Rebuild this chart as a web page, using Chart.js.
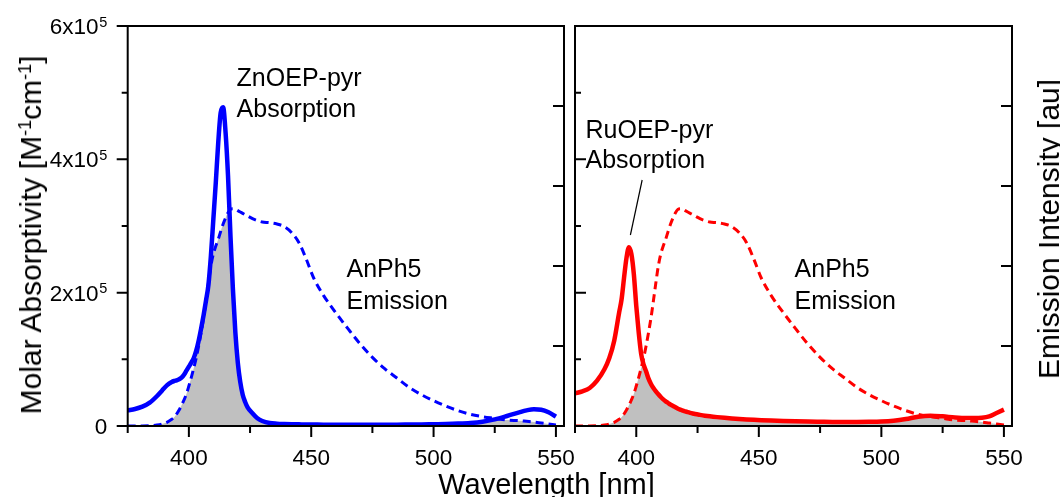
<!DOCTYPE html>
<html>
<head>
<meta charset="utf-8">
<script src="https://cdn.jsdelivr.net/npm/chart.js@4.4.1/dist/chart.umd.min.js"></script>
<style>
  html, body { margin:0; padding:0; background:#fff; }
  #wrap { position:relative; width:1060px; height:497px; overflow:hidden; font-family:'Liberation Sans', Arial, Helvetica, sans-serif; color:#000; }
  canvas { position:absolute; left:0; top:0; }
  .title { position:absolute; white-space:nowrap; }
  .title sup { font-size:18px; line-height:0; vertical-align:baseline; position:relative; top:-10px; }
</style>
</head>
<body>
<div id="wrap">
  <canvas id="c1" width="1060" height="497"></canvas>
  <canvas id="c2" width="1060" height="497"></canvas>
  <div class="title" id="ytitle" style="left:30.6px; top:235px; font-size:30px; line-height:30px; transform:translate(-50%,-50%) rotate(-90deg);">Molar Absorptivity [M<sup>-1</sup>cm<sup>-1</sup>]</div>
  <div class="title" id="y2title" style="left:1048.6px; top:229px; font-size:30px; line-height:30px; transform:translate(-50%,-50%) rotate(-90deg);">Emission Intensity [au]</div>
  <div class="title" id="xtitle" style="left:546.5px; top:469.5px; font-size:29px; line-height:29px; transform:translateX(-50%);">Wavelength [nm]</div>
</div>
<script>
// ---------------- data ----------------
const wavelengths = [375, 378, 381, 384, 387, 389, 391, 393,
  394, 395, 396, 397, 398, 399, 400, 401, 402, 403, 404, 405, 406, 407, 408, 409, 410,
  411, 412, 413, 414, 415, 416, 417, 418, 419, 420, 421, 422, 423, 424,
  426, 428, 430, 433, 436, 439, 442, 445, 448, 451, 455,
  460, 465, 470, 475, 480, 485, 490, 495, 500, 505, 510, 515, 520, 525, 530, 535,
  538, 541, 544, 547, 550];

// AnPh5 emission (drawn on the absorptivity scale, arbitrary units)
const anph5Emission = [0, 0, 0, 300, 1500, 3000, 5500, 10000,
  13000, 18000, 24000, 31000, 39000, 48000, 60000, 73000, 87000, 102000, 120000, 140000, 162000, 188000, 215000, 240000, 258000,
  270000, 280000, 292000, 303000, 312000, 320000, 325000, 326000, 325000, 323000, 321000, 319000, 317000, 315000,
  311000, 308000, 306000, 305000, 303000, 299000, 290000, 275000, 250000, 222000, 196000,
  170000, 146000, 123000, 103000, 86000, 72000, 58000, 47000, 38000, 30000, 23000, 17500, 14000, 11500, 9000, 8000,
  7000, 6000, 4500, 3000, 1500];

// ZnOEP-pyr absorption [M^-1 cm^-1]
const znoepAbsorption = [23500, 25500, 29000, 35000, 45000, 53000, 61000, 66000,
  67500, 68500, 70000, 72500, 77000, 83000, 89000, 95000, 102000, 113000, 128000, 146000, 166000, 188000, 212000, 255000, 310000,
  365000, 425000, 470000, 478000, 440000, 375000, 285000, 205000, 140000, 95000, 66000, 47000, 36000, 28000,
  19000, 11500, 7500, 4500, 3500, 3000, 2700, 2500, 2300, 2200, 2000,
  2000, 1900, 1900, 1900, 2000, 2000, 2200, 2400, 2700, 3000, 3600, 4600, 6500, 10000, 15000, 20500,
  23500, 25200, 24500, 20500, 14000];

// RuOEP-pyr absorption [M^-1 cm^-1]
const ruoepAbsorption = [49000, 52000, 57000, 68000, 85000, 102000, 128000, 170000,
  190000, 222000, 252000, 268000, 258000, 228000, 180000, 140000, 108000, 92000, 82000, 71000, 63000, 57000, 52000, 47500, 43500,
  40000, 37000, 34500, 32000, 30000, 28000, 26000, 24500, 23000, 21800, 20700, 19700, 18800, 18000,
  16700, 15500, 14500, 13300, 12300, 11400, 10600, 9900, 9300, 8800, 8200,
  7600, 7100, 6700, 6400, 6100, 6000, 6000, 6200, 6700, 8000, 10500, 14000, 15500, 14500, 12800, 12000,
  12000, 12500, 14500, 19500, 24500];

const xTickValues = [400, 450, 500, 550];
const xMinorTickValues = [375, 425, 475, 525];
const absTickValues = [0, 200000, 400000, 600000];
const absMinorTickValues = [100000, 300000, 500000];
const absTickMantissa = ['0', '2x10', '4x10', '6x10'];
const absTickExponent = ['', '5', '5', '5'];
const emissionTickValues = [1, 2, 3, 4];

// ---------------- chart helpers ----------------
const FONT = "'Liberation Sans', Arial, Helvetica, sans-serif";
const X_MIN = 375, X_MAX = 553.3;

function pts(arr) { return wavelengths.map((w, i) => ({ x: w, y: arr[i] })); }
function overlap(a, b) { return wavelengths.map((w, i) => ({ x: w, y: Math.min(a[i], b[i]) })); }

const framePlugin = {
  id: 'frame',
  afterDatasetsDraw(chart, args, o) {
    const { ctx, chartArea: a, scales } = chart;
    ctx.save();
    ctx.strokeStyle = '#000';
    ctx.lineWidth = 2;
    ctx.beginPath();
    xTickValues.forEach(v => { const p = scales.x.getPixelForValue(v); ctx.moveTo(p, a.bottom); ctx.lineTo(p, a.bottom + 11); });
    xMinorTickValues.forEach(v => { const p = scales.x.getPixelForValue(v); ctx.moveTo(p, a.bottom); ctx.lineTo(p, a.bottom + 7); });
    const dir = o.outward ? -1 : 1;
    absTickValues.forEach(v => { const p = scales.y.getPixelForValue(v); ctx.moveTo(a.left, p); ctx.lineTo(a.left + dir * 11, p); });
    absMinorTickValues.forEach(v => { const p = scales.y.getPixelForValue(v); ctx.moveTo(a.left, p); ctx.lineTo(a.left + dir * 6, p); });
    emissionTickValues.forEach(v => { const p = scales.y2.getPixelForValue(v); ctx.moveTo(a.right, p); ctx.lineTo(a.right - 11, p); });
    ctx.stroke();
    ctx.strokeRect(a.left, a.top, a.right - a.left, a.bottom - a.top);

    ctx.fillStyle = '#000';
    ctx.textBaseline = 'alphabetic';
    if (o.labels) {
      absTickValues.forEach((v, i) => {
        const p = scales.y.getPixelForValue(v);
        const xr = a.left - 20.5;
        ctx.textAlign = 'right';
        let w = 0;
        if (absTickExponent[i]) {
          ctx.font = '14.5px ' + FONT;
          w = ctx.measureText(absTickExponent[i]).width;
          ctx.fillText(absTickExponent[i], xr, p + 0.5);
        }
        ctx.font = '22.5px ' + FONT;
        ctx.fillText(absTickMantissa[i], xr - w - (w ? 0.5 : 0), p + 8);
      });
    }
    ctx.textAlign = 'left';
    ctx.font = '25px ' + FONT;
    (o.notes || []).forEach(n => {
      const x = scales.x.getPixelForValue(n.x), y = scales.y.getPixelForValue(n.y);
      n.lines.forEach((t, k) => ctx.fillText(t, x, y + k * n.gap));
    });
    if (o.leader) {
      const l = o.leader;
      ctx.lineWidth = 1.2;
      ctx.beginPath();
      ctx.moveTo(scales.x.getPixelForValue(l.x1), scales.y.getPixelForValue(l.y1));
      ctx.lineTo(scales.x.getPixelForValue(l.x2), scales.y.getPixelForValue(l.y2));
      ctx.stroke();
    }
    ctx.restore();
  }
};

function makeChart(id, color, absData, yWidth, padRight, showXLabels, frameOpts) {
  return new Chart(document.getElementById(id), {
    type: 'line',
    data: {
      datasets: [
        { data: pts(absData), borderColor: color, borderWidth: 4.5, pointRadius: 0, fill: false, cubicInterpolationMode: 'monotone' },
        { data: pts(anph5Emission), borderColor: color, borderWidth: 3, borderDash: [8, 5], pointRadius: 0, fill: false, cubicInterpolationMode: 'monotone' },
        { data: overlap(absData, anph5Emission), borderColor: 'rgba(0,0,0,0)', borderWidth: 0, backgroundColor: '#c0c0c0', pointRadius: 0, fill: 'origin', cubicInterpolationMode: 'monotone' }
      ]
    },
    options: {
      responsive: false, animation: false, devicePixelRatio: 1,
      layout: { padding: { left: 0, top: 26, right: padRight, bottom: 0 } },
      plugins: { legend: { display: false }, tooltip: { enabled: false }, frame: frameOpts },
      scales: {
        x: {
          type: 'linear', min: X_MIN, max: X_MAX,
          afterBuildTicks: s => { s.ticks = xTickValues.map(v => ({ value: v })); },
          ticks: { display: showXLabels, color: '#000', font: { size: 22.5, family: FONT }, padding: 19, maxRotation: 0, autoSkip: false, callback: v => String(v) },
          grid: { display: false, drawTicks: false }, border: { display: false },
          afterFit: s => { s.height = 71; }
        },
        y: {
          type: 'linear', min: 0, max: 600000,
          ticks: { display: false }, grid: { display: false, drawTicks: false }, border: { display: false },
          afterFit: s => { s.width = yWidth; }
        },
        y2: {
          type: 'linear', position: 'right', min: 0, max: 5,
          ticks: { display: false }, grid: { display: false, drawTicks: false }, border: { display: false },
          afterFit: s => { s.width = 0; }
        }
      }
    },
    plugins: [framePlugin]
  });
}

makeChart('c1', '#0000ff', znoepAbsorption, 127.7, 1060 - 564, true, {
  outward: true, labels: true,
  notes: [
    { x: 419.5, y: 510000, gap: 30.5, lines: ['ZnOEP-pyr', 'Absorption'] },
    { x: 464.4, y: 224000, gap: 32, lines: ['AnPh5', 'Emission'] }
  ]
});
makeChart('c2', '#ff0000', ruoepAbsorption, 575, 1060 - 1012, true, {
  outward: false, labels: false,
  notes: [
    { x: 379.3, y: 431500, gap: 30, lines: ['RuOEP-pyr', 'Absorption'] },
    { x: 464.6, y: 224000, gap: 32, lines: ['AnPh5', 'Emission'] }
  ],
  leader: { x1: 402.4, y1: 369000, x2: 397.6, y2: 286500 }
});
</script>
</body>
</html>
